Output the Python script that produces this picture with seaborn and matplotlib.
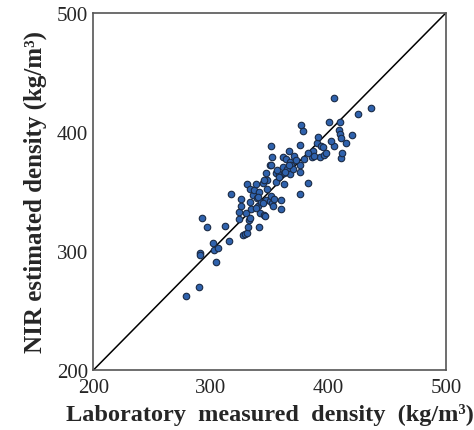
import numpy as np
import pandas as pd
import matplotlib
matplotlib.use("Agg")
import matplotlib.pyplot as plt
import seaborn as sns

# laboratory measured density (x) and NIR estimated density (y), kg/m3
lab_density = [279, 290, 290.5, 291, 292, 297, 302, 303, 306, 304, 312, 315.5, 317,
               324, 323.5, 326, 325.5, 327, 329, 331, 331, 331.5, 332.5, 329.5, 333,
               333.5, 334.5, 336, 337, 338.5, 339, 340, 341, 341, 341.5, 342.5, 344,
               345, 346, 347, 348, 350, 347, 350, 351.5, 352, 351, 351, 352, 353,
               354, 355, 355.5, 358, 360, 360, 361, 361.5, 362, 362.5, 364, 364.5,
               366, 367, 367.5, 368.5, 371, 370, 375.5, 375.5, 375.5, 377, 378.5,
               376, 379.5, 382.5, 386, 387, 390, 391, 392.5, 394, 395.5, 396.5, 400.5,
               404.5, 405, 409, 409.5, 409.5, 410.5, 411, 411.5, 415, 420, 425, 436,
               345, 356, 366, 372, 358, 340, 338, 348, 363, 383, 388, 398, 402, 333, 344]
nir_density = [262, 270, 298, 297, 328, 320, 307, 301, 302.5, 290.5, 321, 308.5, 347.5,
               327, 333, 344, 338, 313.5, 314, 356.5, 315, 320.5, 326, 332, 352,
               341, 335, 347, 351.5, 356.5, 344.5, 337.5, 320, 349.5, 332, 341.5, 357,
               330.5, 329, 365.5, 359.5, 372, 342.5, 342, 388, 378.5, 372, 346.5, 340,
               337.5, 344, 365.5, 358, 365, 335.5, 343, 378.5, 370.5, 356, 365.5, 377,
               368.5, 384, 364.5, 374.5, 372, 380, 368.5, 366, 389, 348, 405.5, 401,
               372, 377.5, 357.5, 378.5, 384, 391, 395.5, 378.5, 388, 387, 380.5, 408.5,
               428.5, 388, 401.5, 408.5, 398, 395, 378, 382.5, 391, 397.5, 415, 420,
               360, 368, 372, 376, 362, 345, 336, 352, 366, 382, 380, 382, 392, 328, 340]

ticks = [200, 300, 400, 500]

df = pd.DataFrame({"lab": lab_density, "nir": nir_density})

sns.set_style("white")
plt.rcParams["font.family"] = ["Liberation Serif", "DejaVu Serif"]

fig = plt.figure(figsize=(4.74, 4.31), dpi=100)
ax = fig.add_axes([0.197, 0.139, 0.744, 0.829])

ax.plot([200, 500], [200, 500], color="black", lw=1.1, zorder=1)
sns.scatterplot(data=df, x="lab", y="nir", ax=ax, s=22, color="#2f62ad",
                edgecolor="#1a2a45", linewidth=0.8, zorder=2)

ax.set_xlim(200, 500)
ax.set_ylim(200, 500)
ax.set_xticks(ticks)
ax.set_yticks(ticks)
ax.tick_params(direction="in", length=4, width=0.8, labelsize=15, color="#555555")
ax.tick_params(axis="x", pad=6)
ax.tick_params(axis="y", pad=4)
for s in ax.spines.values():
    s.set_color("#555555")
    s.set_linewidth(1.2)

ax.set_xlabel("Laboratory  measured  density  (kg/m\u00b3)", fontsize=17.5,
              fontweight="bold", labelpad=4)
ax.set_ylabel("NIR estimated density (kg/m\u00b3)", fontsize=18, fontweight="bold",
              labelpad=7)

fig.savefig("out.png", dpi=100)
